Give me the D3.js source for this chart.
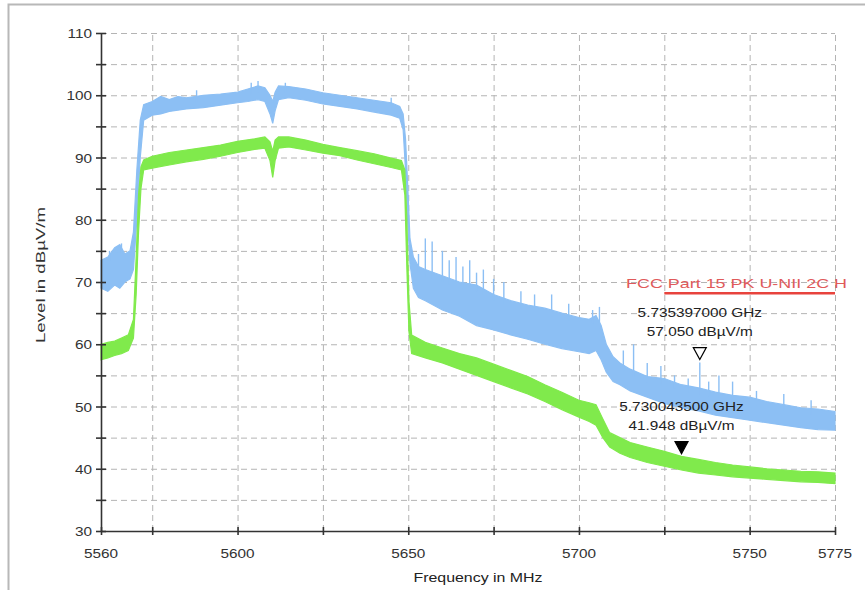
<!DOCTYPE html>
<html>
<head>
<meta charset="utf-8">
<script src="https://cdn.jsdelivr.net/npm/d3@7"></script>
<style>
  body { margin: 0; background: #fff; }
  text { font-family: "Liberation Sans", Arial, sans-serif; }
</style>
</head>
<body>
<div id="chart"></div>
<script>
// chart values
var blueFreq = [5560, 5562, 5564, 5565.5, 5567, 5568.5, 5569.5, 5570.5, 5571.5, 5572.5, 5575, 5577.5, 5580, 5582.5, 5585, 5590, 5595, 5600, 5603, 5606, 5608, 5609.5, 5610.3, 5611, 5612, 5615, 5620, 5625, 5630, 5635, 5640, 5645, 5647.5, 5648.5, 5649.2, 5649.8, 5650.5, 5651.5, 5653, 5655, 5660, 5665, 5670, 5675, 5680, 5685, 5690, 5695, 5700, 5703, 5705, 5706.5, 5708, 5710, 5712, 5715, 5720, 5725, 5730, 5735, 5740, 5745, 5750, 5755, 5760, 5765, 5770, 5775];
var blueLo = [69.0, 68.5, 69.5, 69.0, 70.0, 70.5, 72, 80, 90, 96.0, 96.8, 97.0, 97.4, 97.6, 97.8, 98.0, 98.4, 98.8, 99.0, 99.3, 99.0, 97.0, 95.5, 97.5, 99.3, 99.6, 99.2, 98.6, 98.2, 97.8, 97.3, 96.8, 96.3, 94.5, 88, 80, 73, 69, 67.5, 67.0, 65.5, 64.5, 63.0, 62.3, 61.5, 60.8, 60.0, 59.3, 58.8, 58.5, 59.0, 57.5, 55.5, 54.0, 53.5, 52.5, 51.5, 50.5, 49.8, 49.3, 48.6, 48.2, 47.8, 47.4, 47.0, 46.6, 46.3, 46.2];
var blueHi = [73.5, 74.0, 75.5, 76.0, 74.5, 75.0, 78, 88, 96, 98.5, 99.0, 99.8, 99.3, 99.8, 99.6, 100.0, 100.2, 100.5, 101.0, 101.5, 101.2, 100.0, 99.0, 100.5, 101.5, 101.4, 101.0, 100.4, 100.0, 99.6, 99.2, 98.8, 98.2, 97.0, 93, 86, 77, 74, 72.5, 72.0, 71.0, 70.0, 69.5, 68.0, 67.0, 66.3, 65.8, 65.0, 64.3, 64.0, 64.6, 63.0, 60.0, 58.0, 57.0, 56.0, 54.8, 54.5, 53.5, 53.0, 52.3, 51.8, 51.5, 50.8, 50.3, 49.8, 49.6, 49.2];

var blueSpikeFreq = [5562.5, 5564.5, 5566, 5588, 5604, 5606, 5614, 5645, 5653, 5655, 5657, 5660, 5662, 5664, 5666, 5668, 5670, 5672, 5675, 5678, 5683, 5687, 5692, 5697, 5704, 5706, 5713, 5716, 5720, 5724, 5728, 5732, 5735.4, 5738, 5741, 5745, 5752, 5760, 5768];
var blueSpikeLevel = [75.0, 75.6, 76.2, 100.8, 102.0, 102.3, 102.0, 99.6, 74.5, 77.0, 76.5, 75.0, 73.5, 74.0, 72.5, 73.5, 71.5, 72.0, 70.5, 70.0, 68.5, 68.0, 68.0, 66.5, 65.5, 66.0, 59.0, 60.0, 57.0, 56.5, 55.0, 54.5, 57.05, 54.0, 55.0, 54.0, 52.5, 52.0, 51.0];

var greenFreq = [5560, 5562, 5564, 5566, 5568, 5569.5, 5570.3, 5571, 5571.7, 5572.5, 5575, 5580, 5585, 5590, 5595, 5600, 5605, 5608, 5609.5, 5610.3, 5611, 5612, 5615, 5620, 5625, 5630, 5635, 5640, 5645, 5648, 5649, 5649.6, 5650.2, 5651, 5655, 5660, 5665, 5670, 5675, 5680, 5685, 5690, 5695, 5700, 5703, 5705, 5707, 5709, 5712, 5715, 5720, 5725, 5730, 5735, 5740, 5745, 5750, 5755, 5760, 5765, 5770, 5775];
var greenLo = [57.5, 57.8, 58.2, 58.5, 59.0, 61, 68, 78, 85, 88.0, 88.3, 88.8, 89.3, 89.7, 90.2, 90.8, 91.3, 91.5, 89.5, 86.8, 89.5, 91.5, 91.7, 91.2, 90.7, 90.3, 89.6, 89.0, 88.4, 88.0, 84, 72, 62, 58.5, 57.8, 57.0, 56.0, 55.0, 54.0, 53.0, 52.0, 50.8, 49.5, 48.3, 47.6, 47.0, 45.0, 43.5, 42.5, 41.8, 41.0, 40.4, 39.8, 39.3, 39.0, 38.7, 38.5, 38.3, 38.1, 37.9, 37.8, 37.6];
var greenHi = [60.0, 60.3, 60.5, 61.0, 61.5, 64, 74, 84, 88.5, 89.6, 90.2, 90.8, 91.2, 91.6, 92.0, 92.6, 93.0, 93.3, 92.5, 91.0, 92.8, 93.3, 93.3, 92.8, 92.1, 91.6, 91.1, 90.6, 89.9, 89.5, 88, 80, 67, 61.5, 60.3, 59.4, 58.5, 57.8, 56.8, 55.8, 54.8, 53.5, 52.3, 51.0, 50.6, 50.3, 48.0, 45.8, 45.0, 44.2, 43.5, 42.8, 42.0, 41.5, 41.0, 40.6, 40.3, 40.0, 39.8, 39.6, 39.5, 39.3];

var limitFreq = [5725, 5775];
var limitLevel = [68.2, 68.2];
var limitName = "FCC Part 15 PK U-NII 2C H";

var markerFreq = [5735.397, 5730.0435];
var markerLevel = [57.050, 41.948];
var markerText = [["5.735397000 GHz", "57.050 dBµV/m"], ["5.730043500 GHz", "41.948 dBµV/m"]];

var xTicks = [5560, 5575, 5600, 5625, 5650, 5675, 5700, 5725, 5750, 5775];
var xLabels = [5560, 5600, 5650, 5700, 5750, 5775];
var yTicks = d3.range(30, 111, 5);
var yLabels = d3.range(30, 111, 10);

var svgWidth = 865;
var svgHeight = 590;
var margin = { top: 33, right: 30, bottom: 59, left: 101 };
var width = svgWidth - margin.left - margin.right;
var height = svgHeight - margin.top - margin.bottom;
var SX = 1.18; // the scan is stretched sideways a little

var svg = d3.select("#chart").append("svg")
    .attr("width", svgWidth)
    .attr("height", svgHeight);

// outer frame
svg.append("path")
    .attr("d", "M8.5,590 V4.5 H865")
    .attr("fill", "none")
    .attr("stroke", "#b8b8b8")
    .attr("stroke-width", 2);

var chart = svg.append("g")
    .attr("transform", `translate(${margin.left}, ${margin.top})`);

var x = d3.scaleLinear().domain([5560, 5775]).range([0, width]);
var y = d3.scaleLinear().domain([30, 110]).range([height, 0]);

function label(g, px, py, s, anchor, size, color) {
    return g.append("text")
        .attr("transform", `translate(${px},${py}) scale(${SX},1)`)
        .attr("text-anchor", anchor)
        .attr("font-size", size)
        .attr("fill", color)
        .text(s);
}

// grid
chart.append("g")
    .attr("class", "grid")
    .call(d3.axisLeft(y).tickValues(yTicks.filter(d => d > 30)).tickSize(-width).tickFormat(""));
chart.append("g")
    .attr("class", "grid")
    .attr("transform", `translate(0, ${height})`)
    .call(d3.axisBottom(x).tickValues(xTicks.filter(d => d > 5560)).tickSize(-height).tickFormat(""));
chart.selectAll(".grid .domain").remove();
chart.selectAll(".grid line")
    .attr("stroke", "#b4b4b4")
    .attr("stroke-width", 1)
    .attr("stroke-dasharray", "6,4");

// traces
var blueArea = d3.area()
    .x((d, i) => x(blueFreq[i]))
    .y0((d, i) => y(blueLo[i]))
    .y1((d, i) => y(blueHi[i]));
var greenArea = d3.area()
    .x((d, i) => x(greenFreq[i]))
    .y0((d, i) => y(greenLo[i]))
    .y1((d, i) => y(greenHi[i]));

var blueColor = "#8cbff4";
var greenColor = "#80ea4c";

chart.append("path")
    .datum(blueFreq)
    .attr("d", blueArea)
    .attr("fill", blueColor)
    .attr("stroke", blueColor)
    .attr("stroke-width", 1.2);

// spikes above the blue band
var blueTop = d3.scaleLinear().domain(blueFreq).range(blueHi);
chart.selectAll(".spike")
    .data(blueSpikeFreq)
    .enter()
    .append("line")
    .attr("class", "spike")
    .attr("x1", d => x(d))
    .attr("x2", d => x(d))
    .attr("y1", d => y(blueTop(d) - 1))
    .attr("y2", (d, i) => y(blueSpikeLevel[i]))
    .attr("stroke", blueColor)
    .attr("stroke-width", 1.4);

chart.append("path")
    .datum(greenFreq)
    .attr("d", greenArea)
    .attr("fill", greenColor)
    .attr("stroke", greenColor)
    .attr("stroke-width", 1.2);

// limit line
chart.append("line")
    .attr("x1", x(limitFreq[0]))
    .attr("x2", x(limitFreq[1]))
    .attr("y1", y(limitLevel[0]))
    .attr("y2", y(limitLevel[1]))
    .attr("stroke", "#e8433d")
    .attr("stroke-width", 2.5);
chart.append("text")
    .attr("x", x(limitFreq[1]) + 12)
    .attr("y", y(limitLevel[0]) - 5)
    .attr("text-anchor", "end")
    .attr("font-size", 13)
    .attr("fill", "#e05a5a")
    .attr("textLength", 221)
    .attr("lengthAdjust", "spacingAndGlyphs")
    .text(limitName);

// markers
markerFreq.forEach(function(f, i) {
    var mx = x(f);
    var my = y(markerLevel[i]) - 3;
    chart.append("path")
        .attr("d", `M${mx - 6.5},${my - 12} L${mx + 6.5},${my - 12} L${mx},${my} Z`)
        .attr("fill", i === 0 ? "#fff" : "#000")
        .attr("stroke", "#000")
        .attr("stroke-width", 1.2);
    label(chart, mx, my - 43, markerText[i][0], "middle", 13, "#222");
    label(chart, mx, my - 24, markerText[i][1], "middle", 13, "#222");
});

// axes
var leftAxis = d3.axisLeft(y).tickValues(yTicks).tickSize(0).tickFormat("");
var bottomAxis = d3.axisBottom(x).tickValues(xTicks).tickSize(0).tickFormat("");

var yAxisG = chart.append("g").attr("class", "axis").call(leftAxis);
var xAxisG = chart.append("g").attr("class", "axis").attr("transform", `translate(0, ${height})`).call(bottomAxis);
yAxisG.selectAll(".tick line").attr("x1", -5).attr("x2", 5);
xAxisG.selectAll(".tick line").attr("y1", -4).attr("y2", 4);
chart.selectAll(".axis .domain, .axis .tick line")
    .attr("stroke", "#333")
    .attr("stroke-width", 1.6);

yLabels.forEach(function(v) {
    label(chart, -9, y(v) + 5, v, "end", 13, "#333");
});
xLabels.forEach(function(v) {
    label(chart, x(v), height + 27, v, "middle", 13, "#333");
});

// axis titles
label(chart, width / 2 + 10, height + 51, "Frequency in MHz", "middle", 13.5, "#222");
chart.append("text")
    .attr("transform", `translate(-56, ${height / 2 - 7}) rotate(-90)`)
    .attr("text-anchor", "middle")
    .attr("font-size", 13)
    .attr("fill", "#333")
    .attr("textLength", 136)
    .attr("lengthAdjust", "spacingAndGlyphs")
    .text("Level in dBµV/m");
</script>
</body>
</html>
